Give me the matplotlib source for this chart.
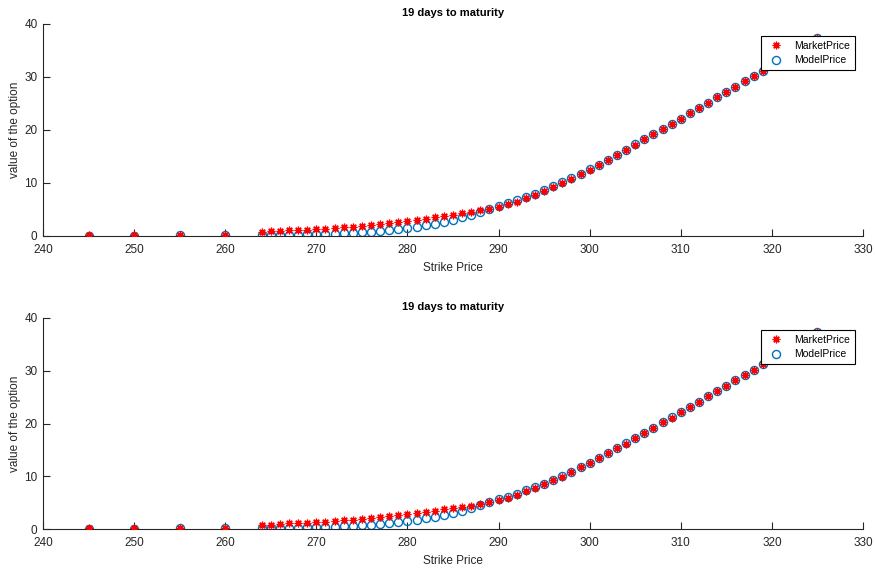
import matplotlib
matplotlib.use("Agg")
import matplotlib.pyplot as plt

plt.rcParams['font.family'] = ['Liberation Sans', 'DejaVu Sans']

strikes = [245, 250, 255, 260,
           264, 265, 266, 267, 268, 269, 270, 271, 272, 273, 274, 275, 276, 277, 278, 279,
           280, 281, 282, 283, 284, 285, 286, 287, 288, 289, 290, 291, 292, 293, 294, 295,
           296, 297, 298, 299, 300, 301, 302, 303, 304, 305, 306, 307, 308, 309, 310, 311,
           312, 313, 314, 315, 316, 317, 318, 319, 320, 321, 322, 323, 324, 325]

market_price = [0.1, 0.1, 0.15, 0.2,
                0.8, 0.85, 0.95, 1.05, 1.12, 1.2, 1.3, 1.38, 1.5, 1.62, 1.75, 1.92, 2.12, 2.3, 2.5, 2.68,
                2.85, 3.05, 3.25, 3.5, 3.75, 3.95, 4.25, 4.45, 4.82, 5.13, 5.5, 5.95, 6.5, 7.12, 7.7, 8.45,
                9.2, 9.95, 10.72, 11.72, 12.5, 13.4, 14.33, 15.28, 16.2, 17.25, 18.24, 19.18, 20.19, 21.13, 22.14, 23.2,
                24.16, 25.16, 26.17, 27.18, 28.19, 29.2, 30.2, 31.2, 32.2, 33.2, 34.2, 35.2, 36.2, 37.3]

model_price = [0.08, 0.08, 0.1, 0.12,
               0.2, 0.2, 0.22, 0.25, 0.28, 0.32, 0.36, 0.4, 0.45, 0.52, 0.6, 0.7, 0.82, 0.95, 1.1, 1.3,
               1.5, 1.75, 2.0, 2.35, 2.65, 3.05, 3.5, 4.0, 4.5, 5.05, 5.6, 6.15, 6.7, 7.3, 7.9, 8.6,
               9.35, 10.1, 10.9, 11.75, 12.6, 13.45, 14.38, 15.32, 16.25, 17.28, 18.27, 19.2, 20.2, 21.15, 22.15, 23.2,
               24.17, 25.17, 26.18, 27.19, 28.2, 29.2, 30.2, 31.2, 32.2, 33.2, 34.2, 35.2, 36.2, 37.35]

title_text = "19 days to maturity"
xlabel_text = "Strike Price"
ylabel_text = "value of the option"
xticks = [240, 250, 260, 270, 280, 290, 300, 310, 320, 330]
yticks = [0, 10, 20, 30, 40]

fig = plt.figure(figsize=(8.75, 5.75), dpi=100)
axes_rects = [[43/875, 1-236/575, 820/875, 212/575],
              [43/875, 1-529/575, 820/875, 211/575]]

axcol = '#262626'
for rect in axes_rects:
    ax = fig.add_axes(rect)
    h_model, = ax.plot(strikes, model_price, linestyle='none', marker='o', markersize=5.8,
                       markerfacecolor='none', markeredgecolor='#0072BD', markeredgewidth=1.0,
                       label='ModelPrice', zorder=2)
    h_market, = ax.plot(strikes, market_price, linestyle='none', marker=(8, 2, 0), markersize=5.5,
                        color='#FF0000', markeredgewidth=0.9, label='MarketPrice', zorder=3)
    ax.set_xlim(240, 330)
    ax.set_ylim(0, 40)
    ax.set_xticks(xticks)
    ax.set_yticks(yticks)
    for s in ['top', 'right']:
        ax.spines[s].set_visible(False)
    for s in ['left', 'bottom']:
        ax.spines[s].set_color(axcol)
        ax.spines[s].set_linewidth(0.8)
    ax.tick_params(direction='in', length=5, width=0.8, colors=axcol, labelsize=8.5,
                   labelcolor=axcol)
    ax.tick_params(axis='x', pad=6)
    ax.tick_params(axis='y', pad=4)
    ax.set_title(title_text, fontsize=8, fontweight='bold', pad=6, color='black')
    ax.set_xlabel(xlabel_text, fontsize=8.5, color=axcol, labelpad=4)
    ax.set_ylabel(ylabel_text, fontsize=8.5, color=axcol, labelpad=2)
    leg = ax.legend(handles=[h_market, h_model], loc='upper right',
                    bbox_to_anchor=((855-43)/820, (236-36)/212), borderaxespad=0,
                    fontsize=7.5, fancybox=False, framealpha=1, edgecolor='black',
                    handletextpad=0.8, borderpad=0.45, labelspacing=0.45, handlelength=2.0)
    leg.get_frame().set_linewidth(0.8)
    leg.set_zorder(5)

fig.savefig('out.png', dpi=100)
